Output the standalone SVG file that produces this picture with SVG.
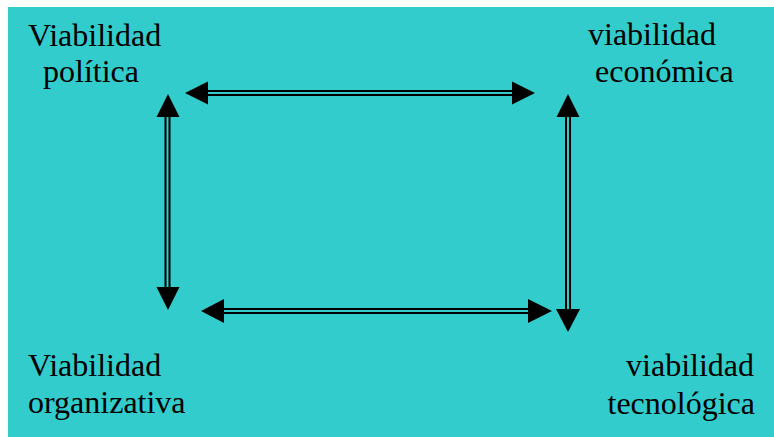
<svg xmlns="http://www.w3.org/2000/svg" width="774" height="437" viewBox="0 0 774 437">
  <style>
    .lbl { font-family: "Liberation Serif", "Times New Roman", serif; font-size: 32px; fill: #000; }
    .rail { stroke: #000; stroke-width: 6; fill: none; }
    .gap { stroke: #33CCCC; stroke-width: 2; fill: none; }
    .head { fill: #000; }
  </style>
  <rect x="0" y="0" width="774" height="437" fill="#ffffff"/>
  <rect x="8" y="7" width="766" height="430" fill="#33CCCC"/>

  <g id="politica">
    <text class="lbl" x="28" y="46">Viabilidad</text>
    <text class="lbl" x="43" y="82">política</text>
  </g>
  <g id="economica">
    <text class="lbl" x="588" y="45">viabilidad</text>
    <text class="lbl" x="595" y="82">económica</text>
  </g>
  <g id="organizativa">
    <text class="lbl" x="28" y="376">Viabilidad</text>
    <text class="lbl" x="28" y="413">organizativa</text>
  </g>
  <g id="tecnologica">
    <text class="lbl" x="754" y="376" text-anchor="end">viabilidad</text>
    <text class="lbl" x="755" y="414" text-anchor="end">tecnológica</text>
  </g>

  <g id="connectors">
    <!-- top: política <-> económica -->
    <line class="rail" x1="206" y1="93" x2="514" y2="93"/>
    <line class="gap" x1="206" y1="93" x2="514" y2="93"/>
    <polygon class="head" points="185,93 208,81.5 208,104.5"/>
    <polygon class="head" points="535,93 512,81.5 512,104.5"/>

    <!-- left: política <-> organizativa -->
    <line class="rail" x1="167.5" y1="115" x2="167.5" y2="289"/>
    <line class="gap" x1="167.5" y1="115" x2="167.5" y2="289"/>
    <polygon class="head" points="168,94 156.5,117 179.5,117"/>
    <polygon class="head" points="168,310 156.5,287 179.5,287"/>

    <!-- bottom: organizativa <-> tecnológica -->
    <line class="rail" x1="221" y1="311" x2="530" y2="311"/>
    <line class="gap" x1="221" y1="311" x2="530" y2="311"/>
    <polygon class="head" points="201,311 224,299 224,323"/>
    <polygon class="head" points="552,311 528,299 528,323"/>

    <!-- right: económica <-> tecnológica -->
    <line class="rail" x1="568" y1="115" x2="568" y2="311"/>
    <line class="gap" x1="568" y1="115" x2="568" y2="311"/>
    <polygon class="head" points="568,94 556.5,117 579.5,117"/>
    <polygon class="head" points="568,332 556,309 580,309"/>
  </g>
</svg>
